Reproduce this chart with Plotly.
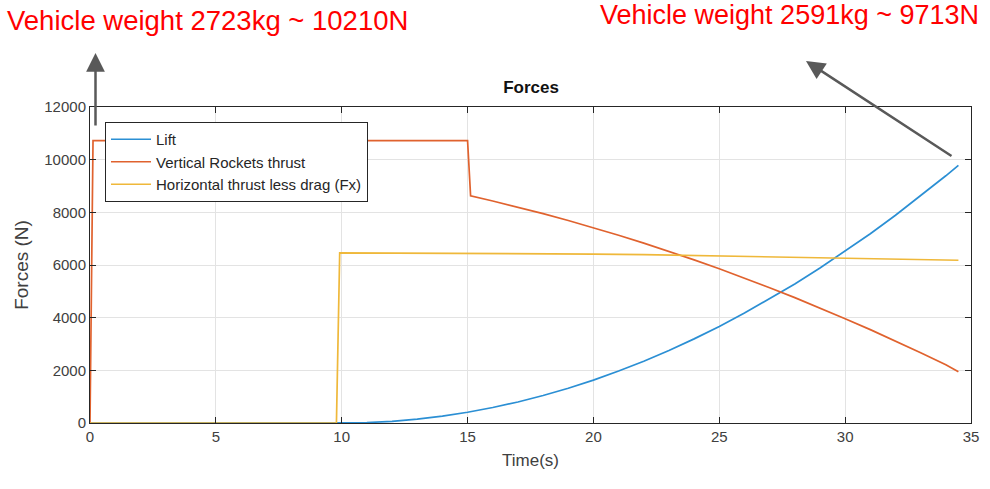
import plotly.graph_objects as go

# ---------------- data ----------------
lift_t = [0, 9.9, 10, 11, 12, 13, 14, 15, 16, 17, 18, 19, 20, 21, 22, 23, 24, 25,
          26, 27, 28, 29, 30, 31, 32, 33, 34, 34.5]
lift_f = [0, 0, 0, 16, 65, 147, 261, 408, 587, 799, 1043, 1320, 1630, 1972, 2347,
          2755, 3195, 3668, 4173, 4711, 5281, 5884, 6520, 7188, 7889, 8622, 9388, 9784]

vert_t = [0, 0.12, 15.0, 15.12, 16, 17, 18, 19, 20, 21, 22, 23, 24, 25, 26, 27, 28,
          29, 30, 31, 32, 33, 34, 34.5]
vert_f = [0, 10720, 10720, 8630, 8430, 8197, 7950, 7690, 7417, 7131, 6832, 6520, 6194,
          5855, 5503, 5138, 4760, 4369, 3962, 3545, 3114, 2670, 2212, 1950]

horiz_t = [0, 9.79, 9.92, 12, 14, 16, 18, 20, 22, 24, 26, 28, 30, 32, 34.5]
horiz_f = [0, 0, 6460, 6455, 6450, 6440, 6430, 6415, 6395, 6365, 6330, 6295, 6260,
           6225, 6180]

series_names = ["Lift", "Vertical Rockets thrust", "Horizontal thrust less drag (Fx)"]
x_ticks = [0, 5, 10, 15, 20, 25, 30, 35]
y_ticks = [0, 2000, 4000, 6000, 8000, 10000, 12000]
y_tick_labels = ["0", "2000", "4000", "6000", "8000", "10000", "12000"]

note_left = "Vehicle weight 2723kg ~ 10210N"
note_right = "Vehicle weight 2591kg ~ 9713N"

# ---------------- layout geometry ----------------
W, H = 990, 489
L, R, T, B = 90, 19, 107, 66
PW, PH = W - L - R, H - T - B


def px(x):
    return (x - L) / PW


def py(y):
    return (H - B - y) / PH


colors = ["#2b8fd4", "#e0622e", "#efb83a"]
FONT = "Liberation Sans, Arial, sans-serif"
AX = "#262626"

fig = go.Figure()
for t, f, name, c in zip([lift_t, vert_t, horiz_t], [lift_f, vert_f, horiz_f],
                         series_names, colors):
    fig.add_trace(go.Scatter(x=t, y=f, mode="lines", name=name,
                             line=dict(color=c, width=1.7)))

axis_common = dict(
    showline=True, linecolor=AX, linewidth=1, mirror="ticks",
    ticks="inside", ticklen=6, tickcolor=AX, tickwidth=1,
    showgrid=True, gridcolor="#e3e3e3", gridwidth=1, zeroline=False,
    tickfont=dict(family=FONT, size=15, color="#404040"),
    automargin=False,
)

fig.update_layout(
    width=W, height=H,
    margin=dict(l=L, r=R, t=T, b=B),
    paper_bgcolor="white", plot_bgcolor="white",
    font=dict(family=FONT, color=AX),
    title=dict(text="<b>Forces</b>", x=531 / W, xanchor="center", xref="container",
               y=1 - 87 / H, yref="container", yanchor="middle",
               font=dict(family=FONT, size=17, color="#111111")),
    xaxis=dict(range=[0, 35], tickvals=x_ticks, **axis_common,
               title=dict(text="Time(s)", standoff=10,
                          font=dict(family=FONT, size=17, color="#404040"))),
    yaxis=dict(range=[0, 12000], tickvals=y_ticks, ticktext=y_tick_labels,
               **axis_common,
               title=dict(text="Forces (N)", standoff=10,
                          font=dict(family=FONT, size=19, color="#404040"))),
    legend=dict(x=px(105), y=py(122), xanchor="left", yanchor="top",
                bgcolor="white", bordercolor=AX, borderwidth=1,
                font=dict(family=FONT, size=15, color="#262626"),
                itemwidth=40, tracegroupgap=2),
    showlegend=True,
)

# red notes
fig.add_annotation(text=note_left, xref="paper", yref="paper", x=px(5), y=py(20),
                   xanchor="left", yanchor="middle", showarrow=False,
                   font=dict(family=FONT, size=27.5, color="#ff0000"))
fig.add_annotation(text=note_right, xref="paper", yref="paper", x=px(598), y=py(15),
                   xanchor="left", yanchor="middle", showarrow=False,
                   font=dict(family=FONT, size=27, color="#ff0000"))

# arrows
fig.add_annotation(text="", xref="paper", yref="paper", x=px(95.5), y=py(53),
                   ax=0, ay=74, showarrow=True, arrowhead=2, arrowsize=1.5,
                   arrowwidth=2.5, arrowcolor="#595959")
fig.add_annotation(text="", xref="paper", yref="paper", x=px(806), y=py(61),
                   ax=147, ay=96, showarrow=True, arrowhead=2, arrowsize=1.5,
                   arrowwidth=2.5, arrowcolor="#595959")

fig.write_html("out.html",
               config={"displayModeBar": False},
               post_script="document.body.style.margin='0';"
                           "document.body.style.overflow='hidden';")
